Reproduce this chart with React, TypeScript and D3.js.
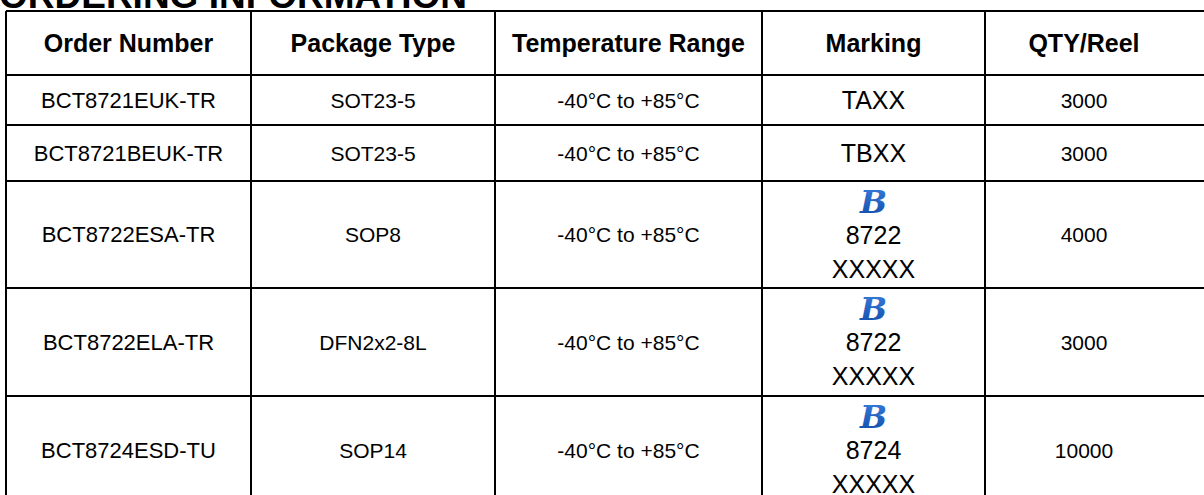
import * as d3 from "d3";
import React from "react";

// table contents
const headers = ["Order Number", "Package Type", "Temperature Range", "Marking", "QTY/Reel"];
const orderNumbers = ["BCT8721EUK-TR", "BCT8721BEUK-TR", "BCT8722ESA-TR", "BCT8722ELA-TR", "BCT8724ESD-TU"];
const packages = ["SOT23-5", "SOT23-5", "SOP8", "DFN2x2-8L", "SOP14"];
const tempRanges = ["-40°C to +85°C", "-40°C to +85°C", "-40°C to +85°C", "-40°C to +85°C", "-40°C to +85°C"];
// marking lines; the multi-line ones carry the blue logo on top
const markings = [["TAXX"], ["TBXX"], ["8722", "XXXXX"], ["8722", "XXXXX"], ["8724", "XXXXX"]];
const qtyPerReel = [3000, 3000, 4000, 3000, 10000];

const W = 1204;
const H = 495;
const left = 6;
const top = 11;
const colWidths = [245, 244, 267, 223, 225];
const rowHeights = [64, 50, 56, 107, 108, 108];
const bodySize = [22, 21, 21, 0, 21];
const font = "'Liberation Sans', Arial, sans-serif";

const colX = [left, ...Array.from(d3.cumsum(colWidths), (d) => left + d)];
const rowY = [top, ...Array.from(d3.cumsum(rowHeights), (d) => top + d)];

const Logo = ({ cx, cy }: { cx: number; cy: number }) => (
	<text
		x={cx}
		y={cy}
		dy="0.36em"
		textAnchor="middle"
		fontFamily="'DejaVu Serif', serif"
		fontWeight="bold"
		fontStyle="italic"
		fontSize={32}
		fill="url(#logoGrad)">
		B
	</text>
);

const App = () => {
	// the last column's texts sit a bit left of the cell middle in the reference
	const cx = (i: number) => (i === 4 ? colX[4] + 99 : (colX[i] + colX[i + 1]) / 2);
	const cy = (r: number) => (rowY[r] + rowY[r + 1]) / 2;

	const rows = orderNumbers.map((o, i) => [o, packages[i], tempRanges[i], String(qtyPerReel[i])]);

	return (
		<svg
			width={W}
			height={H}
			style={{ position: "absolute", left: 0, top: 0, background: "#fff" }}>
			<defs>
				<linearGradient id="logoGrad" x1="0" y1="0" x2="0" y2="1">
					<stop offset="0" stopColor="#3d80e0" />
					<stop offset="1" stopColor="#0d4aa6" />
				</linearGradient>
			</defs>
			<rect width={W} height={H} fill="#fff" />
			<text x={-1} y={8} fontFamily={font} fontWeight="bold" fontSize={37} fill="#000">
				ORDERING INFORMATION
			</text>

			{/* header */}
			{headers.map((h, i) => (
				<text
					key={h}
					x={cx(i)}
					y={cy(0)}
					dy="0.36em"
					textAnchor="middle"
					fontFamily={font}
					fontWeight="bold"
					fontSize={25}
					fill="#000">
					{h}
				</text>
			))}

			{/* body cells */}
			{rows.map((cells, r) =>
				[0, 1, 2, 4].map((c, k) => (
					<text
						key={`${r}-${c}`}
						x={cx(c)}
						y={cy(r + 1)}
						dy="0.36em"
						textAnchor="middle"
						fontFamily={font}
						fontSize={bodySize[c]}
						fill="#000">
						{cells[k]}
					</text>
				)),
			)}

			{/* marking column */}
			{markings.map((lines, r) => {
				if (lines.length === 1)
					return (
						<text
							key={r}
							x={cx(3)}
							y={cy(r + 1)}
							dy="0.36em"
							textAnchor="middle"
							fontFamily={font}
							fontSize={25}
							fill="#000">
							{lines[0]}
						</text>
					);
				const y0 = rowY[r + 1];
				return (
					<g key={r}>
						<Logo cx={cx(3)} cy={y0 + 20} />
						{lines.map((t, j) => (
							<text
								key={j}
								x={cx(3)}
								y={y0 + 54 + j * 34}
								dy="0.36em"
								textAnchor="middle"
								fontFamily={font}
								fontSize={25}
								fill="#000">
								{t}
							</text>
						))}
					</g>
				);
			})}

			{/* grid */}
			<g stroke="#000" strokeWidth={2}>
				{rowY.map((y, i) => (
					<line key={`h${i}`} x1={left} x2={colX[colX.length - 1]} y1={y} y2={y} />
				))}
				{colX.map((x, i) => (
					<line key={`v${i}`} x1={x} x2={x} y1={top} y2={rowY[rowY.length - 1]} />
				))}
			</g>
		</svg>
	);
};

export default App;
